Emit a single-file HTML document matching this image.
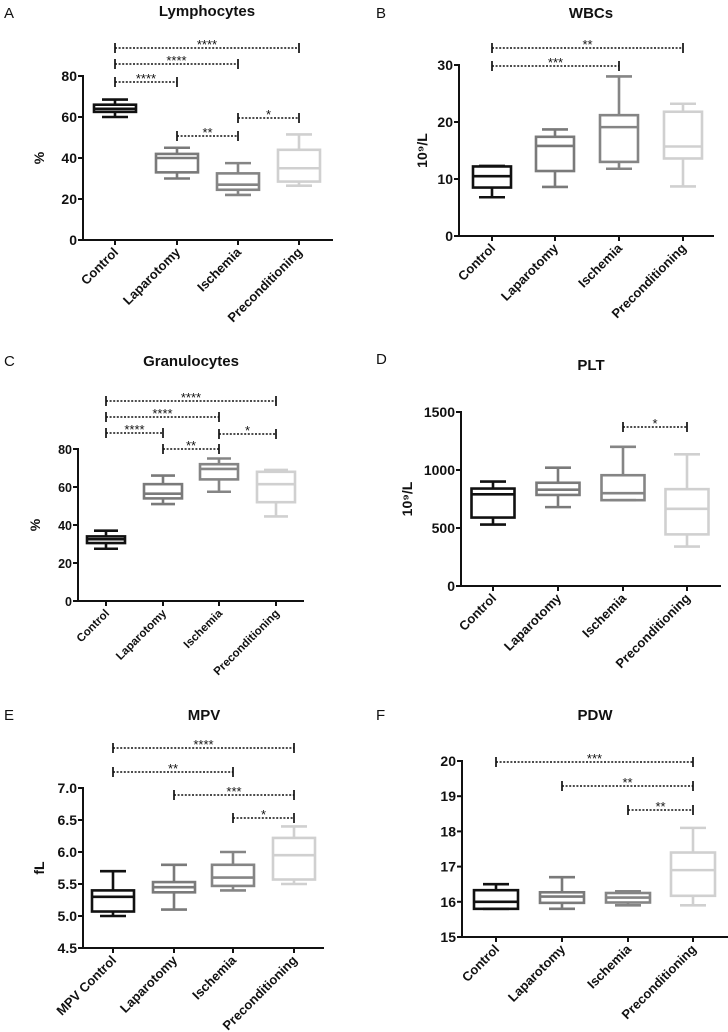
<!DOCTYPE html>
<html><head><meta charset="utf-8"><style>
html,body{margin:0;padding:0;background:#fff}
svg{display:block;font-family:"Liberation Sans",Arial,sans-serif}
</style></head><body>
<svg id="fig" width="728" height="1032" viewBox="0 0 728 1032" xmlns="http://www.w3.org/2000/svg"></svg>
<script>
const categories = ["Control","Laparotomy","Ischemia","Preconditioning"];
const categoriesE = ["MPV Control","Laparotomy","Ischemia","Preconditioning"];
// each box: [whiskerMin, q1, median, q3, whiskerMax]
const lymphBoxes = [[60,62.5,64,66,68.5],[30,33,40,42,45],[22,24.5,27,32.5,37.5],[26.5,28.5,35,44,51.5]];
const wbcBoxes = [[6.8,8.5,10.5,12.2,12.3],[8.6,11.4,15.8,17.4,18.7],[11.8,13,19.1,21.2,28],[8.7,13.6,15.7,21.8,23.2]];
const granBoxes = [[27.5,30.5,32.5,34,37],[51,54,56.5,61.5,66],[57.5,64,69.5,72,75],[44.5,52,61.5,68,69]];
const pltBoxes = [[530,590,790,840,900],[680,785,830,890,1020],[740,740,800,955,1200],[340,445,665,835,1135]];
const mpvBoxes = [[5.0,5.07,5.3,5.4,5.7],[5.1,5.37,5.45,5.53,5.8],[5.4,5.47,5.6,5.8,6.0],[5.5,5.57,5.95,6.22,6.4]];
const pdwBoxes = [[15.8,15.8,16.0,16.33,16.5],[15.8,15.97,16.15,16.27,16.7],[15.9,15.98,16.12,16.25,16.3],[15.9,16.17,16.9,17.4,18.1]];
const lymphTicks = [0,20,40,60,80];
const wbcTicks = [0,10,20,30];
const granTicks = [0,20,40,60,80];
const pltTicks = [0,500,1000,1500];
const mpvTicks = [4.5,5.0,5.5,6.0,6.5,7.0];
const pdwTicks = [15,16,17,18,19,20];
const lymphSig = [[0,3,"****"],[0,2,"****"],[0,1,"****"],[1,2,"**"],[2,3,"*"]];
const wbcSig = [[0,3,"**"],[0,2,"***"]];
const granSig = [[0,3,"****"],[0,2,"****"],[0,1,"****"],[2,3,"*"],[1,2,"**"]];
const pltSig = [[2,3,"*"]];
const mpvSig = [[0,3,"****"],[0,2,"**"],[1,3,"***"],[2,3,"*"]];
const pdwSig = [[0,3,"***"],[1,3,"**"],[2,3,"**"]];

const colors = ["#111","#7a7a7a","#858585","#d0d0d0"];
const NS="http://www.w3.org/2000/svg";
const svg=document.getElementById('fig');
function mk(tag,attrs,parent){const e=document.createElementNS(NS,tag);for(const k in attrs)e.setAttribute(k,attrs[k]);(parent||svg).appendChild(e);return e;}

const panels=[
 {id:"a",letter:"A",lx:4,ly:18,title:"Lymphocytes",tx:207,ty:16,ax:83,y0:240,y1:76,vmin:0,vmax:80,cx:[115,177,238,299],xend:333,bw:42,cw:26,boxes:lymphBoxes,ticks:lymphTicks,dec:0,yt:"%",ytx:44,sig:lymphSig,sigY:[48,64,82,136,118],cats:categories,fs:13,tf:14},
 {id:"b",letter:"B",lx:376,ly:18,title:"WBCs",tx:591,ty:18,ax:459,y0:236,y1:65,vmin:0,vmax:30,cx:[492,555,619,683],xend:714,bw:38,cw:26,boxes:wbcBoxes,ticks:wbcTicks,dec:0,yt:"10⁹/L",ytx:427,sig:wbcSig,sigY:[48,66],cats:categories,fs:13,tf:14},
 {id:"c",letter:"C",lx:4,ly:366,title:"Granulocytes",tx:191,ty:366,ax:78,y0:601,y1:449,vmin:0,vmax:80,cx:[106,163,219,276],xend:304,bw:38,cw:24,boxes:granBoxes,ticks:granTicks,dec:0,yt:"%",ytx:40,sig:granSig,sigY:[401,417,433,434,449],cats:categories,fs:11.5,tf:12.5},
 {id:"d",letter:"D",lx:376,ly:364,title:"PLT",tx:591,ty:370,ax:461,y0:586,y1:412,vmin:0,vmax:1500,cx:[493,558,623,687],xend:721,bw:43,cw:26,boxes:pltBoxes,ticks:pltTicks,dec:0,yt:"10⁹/L",ytx:412,sig:pltSig,sigY:[427],cats:categories,fs:13,tf:14},
 {id:"e",letter:"E",lx:4,ly:720,title:"MPV",tx:204,ty:720,ax:83,y0:948,y1:788,vmin:4.5,vmax:7.0,cx:[113,174,233,294],xend:324,bw:42,cw:26,boxes:mpvBoxes,ticks:mpvTicks,dec:1,yt:"fL",ytx:44,sig:mpvSig,sigY:[748,772,795,818],cats:categoriesE,fs:13,tf:14},
 {id:"f",letter:"F",lx:376,ly:720,title:"PDW",tx:595,ty:720,ax:462,y0:937,y1:761,vmin:15,vmax:20,cx:[496,562,628,693],xend:728,bw:44,cw:26,boxes:pdwBoxes,ticks:pdwTicks,dec:0,yt:"",ytx:0,sig:pdwSig,sigY:[762,786,810],cats:categories,fs:13,tf:14}
];

panels.forEach(p=>{
 const g=mk('g',{});
 
 
 const ys=v=>p.y0+(v-p.vmin)/(p.vmax-p.vmin)*(p.y1-p.y0);
 const L=mk('text',{x:p.lx,y:p.ly,'font-size':15,fill:'#111'},g);L.textContent=p.letter;
 
 
 const T=mk('text',{x:p.tx,y:p.ty,'font-size':15,'font-weight':'bold','text-anchor':'middle',fill:'#111'},g);T.textContent=p.title;
 
 
 const ya=mk('line',{x1:p.ax,x2:p.ax,y1:p.y1-1,y2:p.y0+1,stroke:'#111','stroke-width':2},g);
 
 
 const xa=mk('line',{x1:p.ax-1,x2:p.xend,y1:p.y0,y2:p.y0,stroke:'#111','stroke-width':2},g);
 
 
 p.ticks.forEach(t=>{
  const y=ys(t);
  mk('line',{x1:p.ax-5,x2:p.ax,y1:y,y2:y,stroke:'#111','stroke-width':2},g);
  const tl=mk('text',{x:p.ax-6,y:y+5,'font-size':p.tf,'font-weight':'bold','text-anchor':'end',fill:'#111'},g);
  tl.textContent=t.toFixed(p.dec);
  
  
 });
 if(p.yt){
  const yt=mk('text',{x:p.ytx,y:(p.y0+p.y1)/2,'font-size':14,'font-weight':'bold','text-anchor':'middle',fill:'#111',transform:`rotate(-90 ${p.ytx} ${(p.y0+p.y1)/2})`},g);
  yt.textContent=p.yt;
  
  
 }
 p.cats.forEach((c,i)=>{
  const x=p.cx[i];
  mk('line',{x1:x,x2:x,y1:p.y0,y2:p.y0+5,stroke:'#111','stroke-width':2},g);
  const lx=x+4,ly=p.y0+13;
  const t=mk('text',{x:lx,y:ly,'font-size':p.fs,'font-weight':'bold','text-anchor':'end',fill:'#111',transform:`rotate(-45 ${lx} ${ly})`},g);
  t.textContent=c;
  
  
 });
 p.boxes.forEach((b,i)=>{
  const x=p.cx[i],col=colors[i];
  const bg=mk('g',{stroke:col,'stroke-width':2.6,fill:'none'},g);
  
  
  mk('line',{x1:x,x2:x,y1:ys(b[0]),y2:ys(b[1])},bg);
  mk('line',{x1:x,x2:x,y1:ys(b[3]),y2:ys(b[4])},bg);
  mk('line',{x1:x-p.cw/2,x2:x+p.cw/2,y1:ys(b[0]),y2:ys(b[0])},bg);
  mk('line',{x1:x-p.cw/2,x2:x+p.cw/2,y1:ys(b[4]),y2:ys(b[4])},bg);
  mk('rect',{x:x-p.bw/2,y:ys(b[3]),width:p.bw,height:Math.max(0.5,ys(b[1])-ys(b[3]))},bg);
  mk('line',{x1:x-p.bw/2,x2:x+p.bw/2,y1:ys(b[2]),y2:ys(b[2])},bg);
 });
 p.sig.forEach((s,k)=>{
  const y=p.sigY[k],x1=p.cx[s[0]],x2=p.cx[s[1]];
  const sg=mk('g',{stroke:'#111'},g);
  
  
  mk('line',{x1:x1,x2:x2,y1:y,y2:y,'stroke-width':1.4,'stroke-dasharray':'2 1.6'},sg);
  mk('line',{x1:x1,x2:x1,y1:y-5,y2:y+5,'stroke-width':1.7},sg);
  mk('line',{x1:x2,x2:x2,y1:y-5,y2:y+5,'stroke-width':1.7},sg);
  const st=mk('text',{x:(x1+x2)/2,y:y+1,'font-size':13,'text-anchor':'middle',fill:'#111',stroke:'none'},sg);
  st.textContent=s[2];
 });
});
</script>
</body></html>
